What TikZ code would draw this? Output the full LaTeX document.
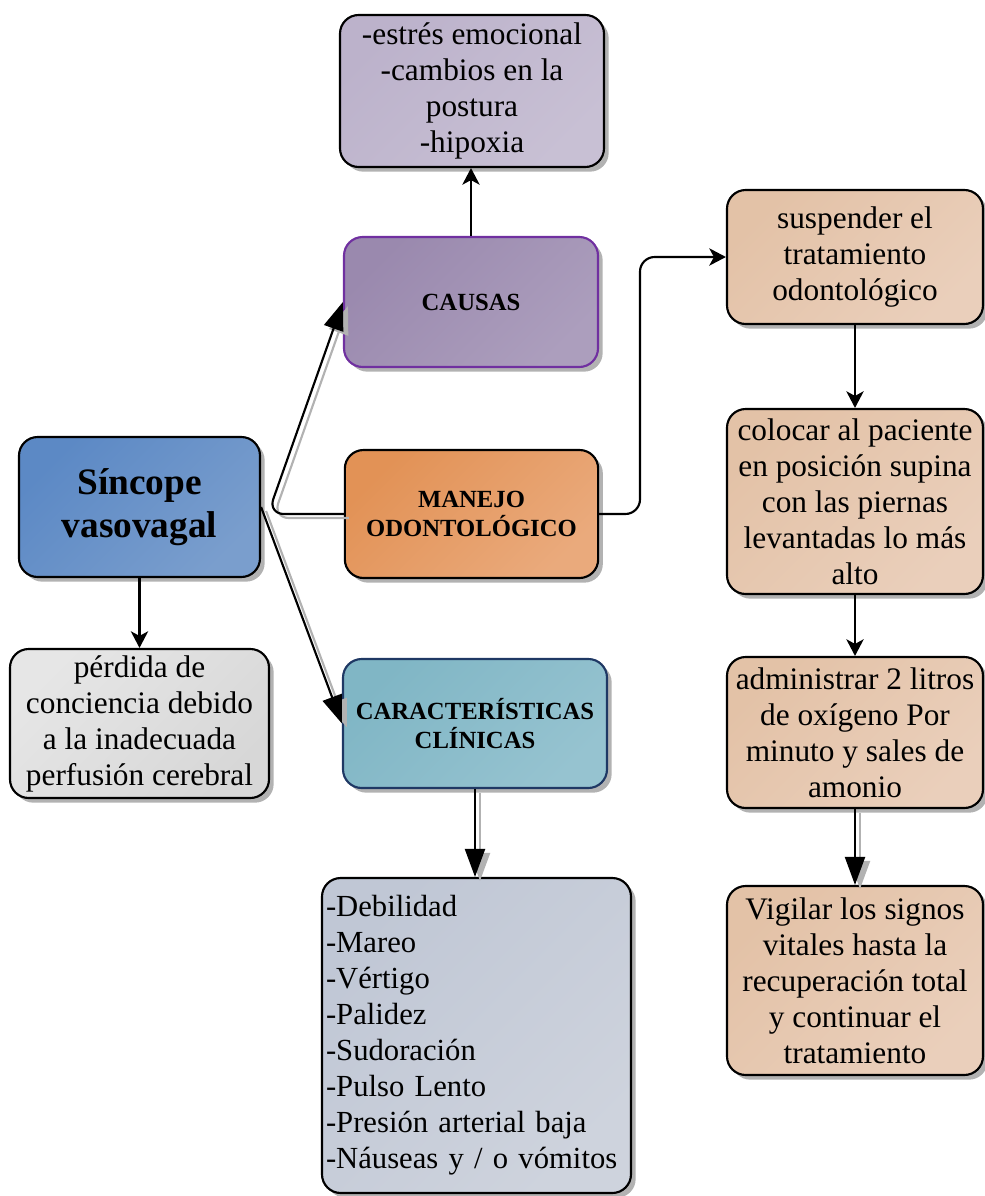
\documentclass[tikz,border=0pt]{standalone}
\usepackage{fontspec}
\setmainfont{Liberation Serif}
\usetikzlibrary{arrows.meta,shadows,calc}

% fill colours: first = upper-left tone, second = lower-right tone
\definecolor{blueA}{RGB}{92,137,197}
\definecolor{blueB}{RGB}{122,158,205}
\definecolor{violA}{RGB}{154,137,174}
\definecolor{violB}{RGB}{172,158,189}
\definecolor{violEdge}{RGB}{112,48,160}
\definecolor{lavA}{RGB}{188,178,203}
\definecolor{lavB}{RGB}{200,192,212}
\definecolor{orA}{RGB}{226,146,86}
\definecolor{orB}{RGB}{234,170,124}
\definecolor{tealA}{RGB}{128,182,197}
\definecolor{tealB}{RGB}{150,195,208}
\definecolor{navyEdge}{RGB}{31,56,100}
\definecolor{greyA}{RGB}{230,230,230}
\definecolor{greyB}{RGB}{215,215,215}
\definecolor{slateA}{RGB}{192,199,213}
\definecolor{slateB}{RGB}{206,211,221}
\definecolor{peachA}{RGB}{227,194,167}
\definecolor{peachB}{RGB}{234,207,187}

\newcommand\bodysize{\fontsize{23.5}{27}\selectfont}
\newcommand\listsize{\fontsize{23}{27}\selectfont}
\newcommand\labelsize{\fontsize{18.5}{22}\selectfont\bfseries}
\newcommand\titlesize{\fontsize{28}{32}\selectfont\bfseries}

\tikzset{
  box/.style={draw=black, line width=1.6pt, rounded corners=14pt,
    align=center, inner sep=2pt,
    drop shadow={shadow xshift=3.5pt, shadow yshift=-3.5pt, fill=black, opacity=0.3}},
  tone/.style 2 args={left color=#1, right color=#2, shading angle=45},
  conn/.style={draw=black, line width=1.6pt},
  ghost/.style={draw=black!30, line width=1.6pt,
    transform canvas={shift={(3.75pt,-3pt)}}},
  smalltip/.style={-{Stealth[length=12.5pt,width=13pt,inset=3.5pt]}},
  bigtip/.style={-{Triangle[length=21pt,width=15pt]}},
}

\begin{document}
\begin{tikzpicture}[x=0.75pt,y=-0.75pt]
\useasboundingbox (0,0) rectangle (985,1196);

% ---- left column ----
\node[box, tone={blueA}{blueB}, minimum width=180.75pt, minimum height=105pt,
      font=\titlesize] (sincope) at (139.5,507) {Síncope\\vasovagal};
\node[box, tone={greyA}{greyB}, minimum width=194.25pt, minimum height=111.75pt,
      font=\bodysize] (perdida) at (139.5,723.5)
      {pérdida de\\conciencia debido\\a la inadecuada\\perfusión cerebral};

% ---- middle column ----
\node[box, tone={lavA}{lavB}, minimum width=198pt, minimum height=114pt,
      font=\bodysize] (factores) at (472,91)
      {-estrés emocional\\-cambios en la\\postura\\-hipoxia};
\node[box, draw=violEdge, tone={violA}{violB}, minimum width=190.5pt, minimum height=97.5pt,
      font=\labelsize] (causas) at (471,302) {CAUSAS};
\node[box, tone={orA}{orB}, minimum width=190pt, minimum height=96pt,
      font=\labelsize] (manejo) at (471.5,514) {MANEJO\\ODONTOLÓGICO};
\node[box, draw=navyEdge, tone={tealA}{tealB}, minimum width=198pt, minimum height=96.75pt,
      font=\labelsize] (clinicas) at (475,723.5) {CARACTERÍSTICAS\\CLÍNICAS};
\node[box, tone={slateA}{slateB}, minimum height=236.25pt, inner xsep=3pt,
      text width=225.75pt, align=left, font=\listsize] (sintomas) at (476.5,1035.5)
      {-Debilidad\\-Mareo\\-Vértigo\\-Palidez\\-Sudoración\\-Pulso Lento\\-Presión arterial baja\\-Náuseas y / o vómitos};

% ---- right column ----
\node[box, tone={peachA}{peachB}, minimum width=192pt, minimum height=100.5pt,
      font=\bodysize] (suspender) at (855,257)
      {suspender el\\tratamiento\\odontológico};
\node[box, tone={peachA}{peachB}, minimum width=192pt, minimum height=138.75pt,
      font=\bodysize] (colocar) at (855,501.5)
      {colocar al paciente\\en posición supina\\con las piernas\\levantadas lo más\\alto};
\node[box, tone={peachA}{peachB}, minimum width=192pt, minimum height=113.25pt,
      font=\bodysize] (oxigeno) at (855,732.5)
      {administrar 2 litros\\de oxígeno Por\\minuto y sales de\\amonio};
\node[box, tone={peachA}{peachB}, minimum width=192pt, minimum height=141.75pt,
      font=\bodysize] (vigilar) at (855,980.5)
      {Vigilar los signos\\vitales hasta la\\recuperación total\\y continuar el\\tratamiento};

% ---- bend points ----
\coordinate (bendA) at (268,514);
\coordinate (bendB) at (640,514);
\coordinate (bendC) at (640,257);

% ---- grey echo lines ----
\draw[ghost, bigtip, rounded corners=12pt] (manejo.west) -- (bendA) -- (causas.west);
\draw[ghost, bigtip] (sincope.east) -- (clinicas.west);
\draw[ghost, bigtip] (clinicas.south) -- (clinicas.south |- sintomas.north);
\draw[ghost, bigtip] (oxigeno.south) -- (vigilar.north);

% ---- connectors ----
\draw[conn, bigtip, rounded corners=12pt] (manejo.west) -- (bendA) -- (causas.west);
\draw[conn, bigtip] (sincope.east) -- (clinicas.west);
\draw[conn, bigtip] (clinicas.south) -- (clinicas.south |- sintomas.north);
\draw[conn, bigtip] (oxigeno.south) -- (vigilar.north);
\draw[conn, smalltip] (causas.north) -- (causas.north |- factores.south);
\draw[conn, smalltip] (sincope.south) -- (perdida.north);
\draw[conn, smalltip, rounded corners=11pt] (manejo.east) -- (bendB) -- (bendC) -- (suspender.west);
\draw[conn, smalltip] (suspender.south) -- (colocar.north);
\draw[conn, smalltip] (colocar.south) -- (oxigeno.north);
\end{tikzpicture}
\end{document}
